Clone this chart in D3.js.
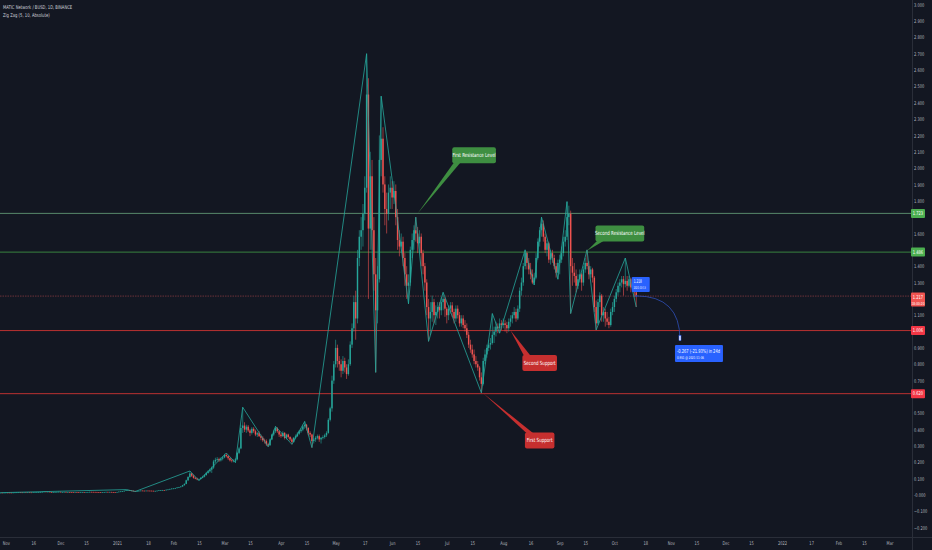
<!DOCTYPE html>
<html>
<head>
<meta charset="utf-8">
<title>MATIC Network / BUSD, 1D</title>
<style>
  body { margin: 0; background: #131722; }
  svg { display: block; }
  text { font-family: "Liberation Sans Narrow", "DejaVu Sans Condensed", sans-serif; }
</style>
</head>
<body>
<script src="https://cdn.jsdelivr.net/npm/d3@7"></script>
<script>
// daily candles, one row per day: [high, low, close]; open = previous close
const startDate = "2020-10-29";
const firstOpen = 0.0143;

const oct20 = [[0.0150,0.0139,0.0145],[0.0148,0.0138,0.0142],[0.0152,0.0140,0.0148]];
const nov20 = [[0.0155,0.0143,0.0150],[0.0153,0.0144,0.0149],[0.0151,0.0140,0.0146],[0.0150,0.0139,0.0144],[0.0156,0.0142,0.0150],
  [0.0163,0.0148,0.0158],[0.0166,0.0154,0.0161],[0.0168,0.0157,0.0163],[0.0167,0.0155,0.0160],[0.0163,0.0152,0.0157],
  [0.0166,0.0154,0.0162],[0.0165,0.0155,0.0160],[0.0168,0.0157,0.0163],[0.0165,0.0154,0.0159],[0.0162,0.0151,0.0157],
  [0.0172,0.0155,0.0168],[0.0178,0.0164,0.0172],[0.0182,0.0166,0.0175],[0.0186,0.0170,0.0180],[0.0192,0.0176,0.0186],
  [0.0202,0.0183,0.0194],[0.0225,0.0190,0.0210],[0.0215,0.0195,0.0201],[0.0212,0.0190,0.0203],[0.0208,0.0180,0.0186],
  [0.0190,0.0155,0.0168],[0.0186,0.0162,0.0180],[0.0190,0.0175,0.0184],[0.0195,0.0180,0.0188],[0.0204,0.0185,0.0196]];
const dec20 = [[0.0200,0.0178,0.0183],[0.0190,0.0176,0.0184],[0.0195,0.0180,0.0190],[0.0192,0.0170,0.0175],[0.0188,0.0172,0.0184],
  [0.0187,0.0176,0.0182],[0.0185,0.0174,0.0178],[0.0180,0.0166,0.0172],[0.0180,0.0168,0.0176],[0.0179,0.0168,0.0174],
  [0.0175,0.0162,0.0169],[0.0177,0.0166,0.0173],[0.0184,0.0171,0.0180],[0.0183,0.0173,0.0178],[0.0184,0.0174,0.0180],
  [0.0190,0.0177,0.0185],[0.0200,0.0182,0.0192],[0.0196,0.0184,0.0190],[0.0194,0.0183,0.0188],[0.0192,0.0180,0.0186],
  [0.0188,0.0172,0.0180],[0.0184,0.0170,0.0178],[0.0180,0.0158,0.0166],[0.0182,0.0162,0.0178],[0.0190,0.0175,0.0185],
  [0.0196,0.0182,0.0190],[0.0198,0.0183,0.0188],[0.0195,0.0184,0.0189],[0.0192,0.0176,0.0182],[0.0188,0.0175,0.0181],
  [0.0186,0.0172,0.0178]];
const jan21 = [[0.0192,0.0176,0.0185],[0.0212,0.0182,0.0205],[0.0228,0.0198,0.0220],[0.0245,0.0205,0.0235],[0.0270,0.0228,0.0260],
  [0.0305,0.0255,0.0290],[0.0330,0.0280,0.0300],[0.0310,0.0262,0.0275],[0.0285,0.0255,0.0262],[0.0272,0.0240,0.0248],
  [0.0255,0.0215,0.0232],[0.0252,0.0225,0.0245],[0.0262,0.0238,0.0256],[0.0278,0.0250,0.0270],[0.0275,0.0255,0.0264],
  [0.0270,0.0255,0.0262],[0.0274,0.0258,0.0268],[0.0272,0.0258,0.0265],[0.0270,0.0254,0.0262],[0.0266,0.0245,0.0258],
  [0.0260,0.0232,0.0240],[0.0258,0.0230,0.0252],[0.0272,0.0248,0.0265],[0.0292,0.0260,0.0286],[0.0300,0.0278,0.0292],
  [0.0310,0.0285,0.0302],[0.0308,0.0285,0.0296],[0.0332,0.0290,0.0325],[0.0350,0.0318,0.0340],[0.0380,0.0332,0.0372],
  [0.0405,0.0360,0.0392]];
const feb21 = [[0.0420,0.0380,0.0400],[0.0440,0.0395,0.0425],[0.0475,0.0415,0.0460],[0.0500,0.0440,0.0480],[0.0540,0.0465,0.0520],
  [0.0620,0.0505,0.0600],[0.0710,0.0570,0.0680],[0.0940,0.0660,0.0900],[0.1150,0.0850,0.1100],[0.1470,0.1050,0.1320],
  [0.1350,0.1100,0.1180],[0.1240,0.1000,0.1050],[0.1100,0.0960,0.1000],[0.1060,0.0900,0.0950],[0.1020,0.0880,0.0980],
  [0.1100,0.0950,0.1050],[0.1180,0.1020,0.1120],[0.1280,0.1080,0.1220],[0.1420,0.1180,0.1350],[0.1520,0.1300,0.1450],
  [0.1620,0.1380,0.1550],[0.1750,0.1350,0.1680],[0.2150,0.1600,0.2050],[0.2280,0.1950,0.2150],[0.2320,0.2050,0.2200],
  [0.2280,0.2020,0.2120],[0.2300,0.2050,0.2220],[0.2380,0.2120,0.2300]];
const mar21 = [[0.2520,0.2250,0.2450],[0.2570,0.2300,0.2380],[0.2420,0.2150,0.2250],[0.2300,0.2050,0.2120],[0.2200,0.1990,0.2080],
  [0.2180,0.2000,0.2100],[0.2250,0.1980,0.2180],[0.2650,0.2120,0.2580],[0.2950,0.2500,0.2850],[0.4300,0.2800,0.4100],
  [0.5370,0.3800,0.4250],[0.4450,0.3850,0.4000],[0.4300,0.3800,0.4180],[0.4280,0.3850,0.3950],[0.4050,0.3600,0.3800],
  [0.4150,0.3700,0.4050],[0.4150,0.3800,0.3900],[0.4000,0.3600,0.3700],[0.3850,0.3550,0.3780],[0.3900,0.3550,0.3600],
  [0.3700,0.3350,0.3500],[0.3600,0.3250,0.3350],[0.3450,0.3150,0.3300],[0.3400,0.3000,0.3100],[0.3200,0.2950,0.3050],
  [0.3450,0.3000,0.3400],[0.3750,0.3350,0.3700],[0.4000,0.3600,0.3900],[0.4200,0.3800,0.4100],[0.4150,0.3800,0.3900],
  [0.3950,0.3550,0.3700]];
const apr21 = [[0.3800,0.3500,0.3600],[0.3900,0.3550,0.3800],[0.3850,0.3400,0.3500],[0.3750,0.3400,0.3700],[0.3750,0.3450,0.3550],
  [0.3600,0.3300,0.3400],[0.3500,0.3100,0.3250],[0.3550,0.3200,0.3500],[0.3700,0.3400,0.3600],[0.3850,0.3550,0.3750],
  [0.3980,0.3680,0.3900],[0.4100,0.3800,0.4000],[0.4300,0.3900,0.4200],[0.4500,0.4050,0.4300],[0.4350,0.3950,0.4100],
  [0.4150,0.3650,0.3800],[0.3900,0.3550,0.3700],[0.3750,0.2900,0.3300],[0.3500,0.3150,0.3400],[0.3600,0.3250,0.3500],
  [0.3700,0.3400,0.3600],[0.3700,0.3250,0.3400],[0.3550,0.3150,0.3500],[0.3650,0.3400,0.3550],[0.3750,0.3450,0.3650],
  [0.3900,0.3550,0.3800],[0.4700,0.3750,0.4600],[0.5400,0.4500,0.5300],[0.7300,0.5100,0.7000],[0.8200,0.6800,0.8000]];
const may21 = [[0.9500,0.7800,0.9000],[0.9200,0.7800,0.8200],[0.8500,0.7600,0.8000],[0.8300,0.7200,0.7600],[0.8500,0.7400,0.8200],
  [0.8400,0.7500,0.7800],[0.8000,0.7100,0.7400],[0.8300,0.7300,0.8000],[0.9400,0.7900,0.9200],[1.0500,0.9000,1.0200],
  [1.2200,1.0000,1.1800],[1.2500,0.9500,1.0800],[1.5000,1.0500,1.4500],[1.6200,1.4000,1.5800],[1.7000,1.5000,1.6200],
  [1.7800,1.5200,1.7200],[1.9500,1.6800,1.8800],[2.7000,1.8500,2.4500],[2.5500,1.2000,1.6300],[2.1000,1.5000,1.9500],
  [2.0500,1.5000,1.6200],[1.7000,1.2500,1.3500],[1.4500,0.7500,1.1300],[1.4000,1.0500,1.3200],[2.2000,1.3000,2.0500],
  [2.4400,1.9500,2.1800],[2.2500,1.8500,1.9000],[1.9500,1.6500,1.7500],[1.8500,1.6000,1.7200],[1.9000,1.6800,1.8500],
  [1.9500,1.7500,1.8800]];
const jun21 = [[1.9200,1.7500,1.8200],[1.9200,1.7800,1.8600],[1.9000,1.6500,1.7000],[1.7500,1.5000,1.5600],[1.6200,1.4600,1.5200],
  [1.6000,1.4800,1.5500],[1.5800,1.4000,1.4500],[1.4800,1.2800,1.3500],[1.4000,1.2000,1.2800],[1.3500,1.1700,1.3000],
  [1.5200,1.2800,1.5000],[1.6000,1.4500,1.5600],[1.6500,1.5000,1.6200],[1.7000,1.5500,1.6000],[1.6400,1.4800,1.5400],
  [1.6200,1.4800,1.5800],[1.6000,1.4000,1.4800],[1.5000,1.3500,1.4000],[1.4200,1.2500,1.3000],[1.3200,1.1000,1.1500],
  [1.2000,0.9400,1.0800],[1.1800,0.9800,1.1200],[1.2200,1.0600,1.1800],[1.2000,1.0500,1.1000],[1.1600,1.0400,1.1200],
  [1.1800,1.0800,1.1500],[1.1800,1.0800,1.1300],[1.2100,1.1000,1.1800],[1.2400,1.1300,1.2000],[1.2100,1.0900,1.1400]];
const jul21 = [[1.1500,1.0500,1.1000],[1.1600,1.0700,1.1400],[1.1800,1.1100,1.1600],[1.1800,1.0900,1.1200],[1.1400,1.0500,1.0800],
  [1.1600,1.0600,1.1400],[1.1600,1.0800,1.1000],[1.1200,1.0300,1.0500],[1.1000,1.0300,1.0800],[1.1000,1.0200,1.0400],
  [1.0700,1.0000,1.0200],[1.0500,0.9600,0.9800],[1.0000,0.9000,0.9200],[0.9500,0.8700,0.8900],[0.9200,0.8400,0.8600],
  [0.8900,0.8000,0.8200],[0.8500,0.7800,0.8000],[0.8200,0.7600,0.7800],[0.7900,0.7000,0.7200],[0.7500,0.6250,0.6800],
  [0.8400,0.6700,0.8200],[0.8900,0.8000,0.8600],[0.9200,0.8400,0.9000],[0.9500,0.8800,0.9200],[0.9600,0.8900,0.9300],
  [1.1100,0.9200,0.9800],[1.0300,0.9300,1.0000],[1.0600,0.9700,1.0300],[1.0500,0.9900,1.0200],[1.0800,0.9900,1.0500],
  [1.0700,1.0100,1.0400]];
const aug21 = [[1.0800,1.0200,1.0500],[1.0700,1.0000,1.0400],[1.0600,0.9900,1.0200],[1.0800,1.0000,1.0600],[1.1000,1.0300,1.0800],
  [1.1200,1.0500,1.1000],[1.1500,1.0800,1.1200],[1.1400,1.0600,1.0800],[1.1600,1.0700,1.1400],[1.2700,1.1200,1.2500],
  [1.3300,1.2200,1.3000],[1.4200,1.2800,1.4000],[1.5000,1.3800,1.4800],[1.4900,1.3800,1.4200],[1.4500,1.3500,1.3800],
  [1.4200,1.3200,1.3500],[1.3800,1.2900,1.3000],[1.3600,1.2850,1.3300],[1.4800,1.3200,1.4500],[1.5700,1.4400,1.5500],
  [1.6400,1.5200,1.6200],[1.7000,1.5800,1.6600],[1.6800,1.5500,1.5800],[1.6000,1.4800,1.5000],[1.5600,1.4600,1.5400],
  [1.5500,1.4200,1.4400],[1.5000,1.4100,1.4800],[1.5000,1.4200,1.4500],[1.4700,1.3800,1.4000],[1.4200,1.3300,1.3600],
  [1.4400,1.3200,1.4200]];
const sep21 = [[1.4700,1.3500,1.4400],[1.5200,1.4200,1.4800],[1.5800,1.4600,1.5500],[1.6200,1.5200,1.5800],[1.7950,1.5600,1.7000],
  [1.7700,1.6500,1.7200],[1.7400,1.1100,1.4000],[1.4500,1.2800,1.3600],[1.4200,1.3000,1.3400],[1.3800,1.2400,1.2800],
  [1.3500,1.2600,1.3200],[1.3800,1.3000,1.3500],[1.3600,1.2500,1.3000],[1.4000,1.2800,1.3800],[1.4500,1.3600,1.4200],
  [1.5000,1.3800,1.4000],[1.4300,1.3200,1.3500],[1.4000,1.3300,1.3800],[1.3900,1.3000,1.3300],[1.3400,1.1200,1.1500],
  [1.1900,1.0100,1.0500],[1.2000,1.0400,1.1800],[1.2400,1.1500,1.2200],[1.2300,1.0600,1.1000],[1.1500,1.0600,1.1200],
  [1.1400,1.0300,1.0800],[1.1200,1.0400,1.0600],[1.0900,1.0200,1.0400],[1.1400,1.0300,1.1200],[1.1800,1.1000,1.1500]];
const oct21 = [[1.2200,1.1200,1.2000],[1.2600,1.1800,1.2400],[1.3000,1.2200,1.2800],[1.3200,1.2400,1.3000],[1.3400,1.2700,1.3200],
  [1.3400,1.2200,1.2900],[1.4500,1.2700,1.3100],[1.3400,1.2500,1.2800],[1.3400,1.2700,1.3200],[1.3300,1.2400,1.2700],
  [1.3200,1.2500,1.3000],[1.3100,1.2100,1.2400],[1.2600,1.1500,1.2170]];

const months = [oct20, nov20, dec20, jan21, feb21, mar21, apr21, may21, jun21, jul21, aug21, sep21, oct21];

// Zig Zag (5, 10) pivots
const zigDates = ["2020-10-29","2021-01-06","2021-01-11","2021-02-10","2021-02-15","2021-03-02","2021-03-07","2021-03-11",
  "2021-03-25","2021-03-29","2021-04-07","2021-04-14","2021-04-18","2021-05-18","2021-05-23","2021-05-26","2021-06-10",
  "2021-06-14","2021-06-21","2021-06-29","2021-07-20","2021-07-26","2021-07-30","2021-08-13","2021-08-18","2021-08-22",
  "2021-08-31","2021-09-05","2021-09-07","2021-09-16","2021-09-21","2021-10-07","2021-10-13"];
const zigValues = [0.0142,0.033,0.0215,0.147,0.088,0.257,0.198,0.537,0.295,0.42,0.31,0.45,0.29,2.70,0.75,2.44,1.17,
  1.70,0.94,1.24,0.625,1.11,0.99,1.50,1.285,1.70,1.32,1.795,1.11,1.50,1.01,1.45,1.15];

// horizontal levels
const levelValues = [1.723, 1.486, 1.006, 0.620];
const levelKinds = ["res1", "res2", "sup", "sup"];
const lastPrice = 1.217;
const countdown = "18:00:20";

// callouts: tip [date, price], box centre [date, price]
const calloutTexts = ["First Resistance Level", "Second Resistance Level", "Second Support", "First Support"];
const calloutTips = [["2021-06-15", 1.723], ["2021-09-16", 1.495], ["2021-08-05", 1.006], ["2021-07-21", 0.622]];
const calloutAt = [["2021-07-16", 2.078], ["2021-10-04", 1.600], ["2021-08-21", 0.808], ["2021-08-21", 0.334]];
const calloutKinds = ["up", "up", "down", "down"];

// forecast
const forecastFrom = ["2021-10-13", 1.218];
const forecastTo = ["2021-11-06", 0.951];
const forecastText = "-0.267 (-21.93%) in 24d";
const forecastSub = "0.951 @ 2021-11-06";

// time axis ticks
const timeTicks = [["2020-11-01","Nov"],["2020-11-16","16"],["2020-12-01","Dec"],["2020-12-15","15"],["2021-01-01","2021"],
  ["2021-01-18","18"],["2021-02-01","Feb"],["2021-02-15","15"],["2021-03-01","Mar"],["2021-03-15","15"],["2021-04-01","Apr"],
  ["2021-04-15","15"],["2021-05-01","May"],["2021-05-17","17"],["2021-06-01","Jun"],["2021-06-15","15"],["2021-07-01","Jul"],
  ["2021-07-15","15"],["2021-08-01","Aug"],["2021-08-16","16"],["2021-09-01","Sep"],["2021-09-15","15"],["2021-10-01","Oct"],
  ["2021-10-18","18"],["2021-11-01","Nov"],["2021-11-15","15"],["2021-12-01","Dec"],["2021-12-15","15"],["2022-01-01","2022"],
  ["2022-01-17","17"],["2022-02-01","Feb"],["2022-02-15","15"],["2022-03-01","Mar"]];

// ---- layout ----
var width = 932, height = 550;
var plotRight = 912, plotBottom = 537;
var parse = d3.timeParse("%Y-%m-%d");
var narrow = 0.8; // squeeze text like a narrow face

var colors = { up: "#26a69a", down: "#ef5350", green: "#4caf50", red: "#f23645", text: "#b2b5be", blue: "#2962ff" };

// squeeze the glyphs of a text selection horizontally
function squeeze(sel, factor, fixed) {
  sel.each(function() {
    var len = fixed || this.getComputedTextLength() * factor;
    d3.select(this).attr("textLength", len).attr("lengthAdjust", "spacingAndGlyphs");
  });
  return sel;
}

// build candles
var candles = [];
var day = parse(startDate), prev = firstOpen;
months.forEach(function(m) {
  m.forEach(function(r) {
    candles.push({ date: day, open: prev, high: r[0], low: r[1], close: r[2] });
    prev = r[2];
    day = d3.timeDay.offset(day, 1);
  });
});

var x = d3.scaleTime()
  .domain([parse("2021-01-01"), parse("2022-01-01")])
  .range([117, 782]);
var y = d3.scaleLinear()
  .domain([0, 2.9])
  .range([495, 21]);

var svg = d3.select("body").append("svg")
  .attr("width", width)
  .attr("height", height);

svg.append("rect").attr("width", width).attr("height", height).attr("fill", "#131722");

svg.append("clipPath").attr("id", "plot")
  .append("rect").attr("width", plotRight).attr("height", plotBottom);

var plot = svg.append("g").attr("clip-path", "url(#plot)");

// level lines
var levelColor = { res1: "#6aa47e", res2: "#43a047", sup: "#e53935" };
plot.append("g").selectAll("line")
  .data(levelValues)
  .enter().append("line")
  .attr("x1", 0).attr("x2", plotRight)
  .attr("y1", d => y(d)).attr("y2", d => y(d))
  .attr("stroke", (d, i) => levelColor[levelKinds[i]])
  .attr("stroke-width", 0.8);

// last price line
plot.append("line")
  .attr("x1", 0).attr("x2", plotRight)
  .attr("y1", y(lastPrice)).attr("y2", y(lastPrice))
  .attr("stroke", "#a9434a").attr("stroke-width", 0.6)
  .attr("stroke-dasharray", "1.5 1");

// candles
var bodyW = 1.45;
var cg = plot.append("g");
cg.selectAll("line")
  .data(candles)
  .enter().append("line")
  .attr("x1", d => x(d.date)).attr("x2", d => x(d.date))
  .attr("y1", d => y(Math.max(d.high, d.open, d.close)))
  .attr("y2", d => y(Math.min(d.low, d.open, d.close)))
  .attr("stroke", d => d.close >= d.open ? colors.up : colors.down)
  .attr("stroke-width", 0.6);
cg.selectAll("rect")
  .data(candles)
  .enter().append("rect")
  .attr("x", d => x(d.date) - bodyW / 2)
  .attr("width", bodyW)
  .attr("y", d => y(Math.max(d.open, d.close)))
  .attr("height", d => Math.max(0.7, Math.abs(y(d.open) - y(d.close))))
  .attr("fill", d => d.close >= d.open ? colors.up : colors.down);

// zig zag
var zig = zigDates.map((d, i) => [parse(d), zigValues[i]]);
plot.append("path")
  .datum(zig)
  .attr("d", d3.line().x(d => x(d[0])).y(d => y(d[1])))
  .attr("fill", "none")
  .attr("stroke", "#26a69a")
  .attr("stroke-width", 0.8);

// callouts
var cFill = { up: "#3e8e41", down: "#c62f2f" };
calloutTexts.forEach(function(t, i) {
  var g = plot.append("g");
  var cx = x(parse(calloutAt[i][0])), cy = y(calloutAt[i][1]);
  var tx = x(parse(calloutTips[i][0])), ty = y(calloutTips[i][1]);
  var label = g.append("text")
    .attr("x", cx).attr("y", cy)
    .attr("text-anchor", "middle").attr("dominant-baseline", "central")
    .attr("fill", "#ffffff").attr("font-size", 5.6)
    .text(t);
  squeeze(label, narrow);
  var w = label.node().getComputedTextLength() * narrow + 9, h = 16;
  var bx = cx - w / 2, by = cy - h / 2;
  var edge = ty > cy ? by + h - 0.5 : by + 0.5;
  g.insert("path", "text")
    .attr("d", "M" + tx + "," + ty + "L" + (bx + 1.5) + "," + edge + "L" + (bx + 8) + "," + edge + "Z")
    .attr("fill", cFill[calloutKinds[i]]);
  g.insert("rect", "text")
    .attr("x", bx).attr("y", by).attr("width", w).attr("height", h)
    .attr("rx", 2).attr("fill", cFill[calloutKinds[i]]);
});

// forecast
var fx0 = x(parse(forecastFrom[0])), fy0 = y(forecastFrom[1]);
var fx1 = x(parse(forecastTo[0])), fy1 = y(forecastTo[1]);
plot.append("path")
  .attr("d", "M" + fx0 + "," + fy0 + "Q" + fx1 + "," + fy0 + " " + fx1 + "," + fy1)
  .attr("fill", "none").attr("stroke", "#2f4fb8").attr("stroke-width", 0.8);
plot.append("circle").attr("cx", fx0).attr("cy", fy0).attr("r", 1).attr("fill", "#2f4fb8");
plot.append("rect")
  .attr("x", fx1 - 1).attr("y", fy1 - 4).attr("width", 2).attr("height", 5)
  .attr("fill", "#e8ecff").attr("stroke", colors.blue).attr("stroke-width", 0.5);

var sb = plot.append("g");
sb.append("rect").attr("x", fx0 - 4.5).attr("y", fy0 - 19).attr("width", 18).attr("height", 15)
  .attr("rx", 1).attr("fill", colors.blue);
squeeze(sb.append("text").attr("x", fx0 - 2.5).attr("y", fy0 - 12.5).attr("fill", "#fff").attr("font-size", 5.2)
  .text(forecastFrom[1].toFixed(3)), narrow, 8);
squeeze(sb.append("text").attr("x", fx0 - 2.5).attr("y", fy0 - 6.5).attr("fill", "#fff").attr("font-size", 3.8)
  .text(forecastFrom[0]), narrow, 12);

var tb = plot.append("g");
tb.append("rect").attr("x", fx1 - 5).attr("y", fy1 + 5.5).attr("width", 48).attr("height", 17)
  .attr("rx", 1).attr("fill", colors.blue);
squeeze(tb.append("text").attr("x", fx1 - 3).attr("y", fy1 + 13).attr("fill", "#fff").attr("font-size", 5.4)
  .text(forecastText), narrow, 43);
squeeze(tb.append("text").attr("x", fx1 - 3).attr("y", fy1 + 19.5).attr("fill", "#fff").attr("font-size", 3.8)
  .text(forecastSub), narrow, 27);

// borders of scales
svg.append("line").attr("x1", plotRight + 0.5).attr("x2", plotRight + 0.5).attr("y1", 0).attr("y2", height)
  .attr("stroke", "#2a2e39").attr("stroke-width", 1);
svg.append("line").attr("x1", 0).attr("x2", width).attr("y1", plotBottom + 0.5).attr("y2", plotBottom + 0.5)
  .attr("stroke", "#2a2e39").attr("stroke-width", 1);

// price axis
var marks = levelValues.concat([lastPrice]);
var priceTicks = d3.range(-2, 31).map(i => i / 10)
  .filter(v => marks.every(m => Math.abs(y(v) - y(m)) > 6));
var yAxis = d3.axisRight(y)
  .tickValues(priceTicks)
  .tickSize(0)
  .tickPadding(2)
  .tickFormat(v => (Math.abs(v) < 1e-9 ? "-0.000" : d3.format(".3f")(v)));
var ya = svg.append("g").attr("transform", "translate(" + plotRight + ",0)").call(yAxis);
ya.select(".domain").remove();
squeeze(ya.selectAll("text").attr("fill", colors.text).attr("font-size", 5)
  .attr("font-family", "'Liberation Sans Narrow', 'DejaVu Sans Condensed', sans-serif"), narrow);

// price labels on the axis
var boxColor = { res1: colors.green, res2: colors.green, sup: colors.red };
levelValues.forEach(function(v, i) {
  svg.append("rect").attr("x", plotRight - 1).attr("y", y(v) - 4.5).attr("width", 14).attr("height", 9)
    .attr("rx", 1).attr("fill", boxColor[levelKinds[i]]);
  squeeze(svg.append("text").attr("x", plotRight + 6).attr("y", y(v)).attr("dy", "0.35em")
    .attr("text-anchor", "middle").attr("fill", "#fff").attr("font-size", 5)
    .text(d3.format(".3f")(v)), narrow);
});
svg.append("rect").attr("x", plotRight - 1).attr("y", y(lastPrice) - 3.5).attr("width", 14).attr("height", 14)
  .attr("rx", 1).attr("fill", colors.down);
squeeze(svg.append("text").attr("x", plotRight + 6).attr("y", y(lastPrice) + 1.2).attr("dy", "0.35em")
  .attr("text-anchor", "middle").attr("fill", "#fff").attr("font-size", 5)
  .text(d3.format(".3f")(lastPrice)), narrow);
squeeze(svg.append("text").attr("x", plotRight + 6).attr("y", y(lastPrice) + 7.2).attr("dy", "0.35em")
  .attr("text-anchor", "middle").attr("fill", "#fff").attr("font-size", 4)
  .text(countdown), narrow);

// time axis
var xAxis = d3.axisBottom(x)
  .tickValues(timeTicks.map(t => parse(t[0])))
  .tickFormat((d, i) => timeTicks[i][1])
  .tickSize(0)
  .tickPadding(4);
var xa = svg.append("g").attr("transform", "translate(0," + plotBottom + ")").call(xAxis);
xa.select(".domain").remove();
squeeze(xa.selectAll("text").attr("fill", colors.text).attr("font-size", 5)
  .attr("font-family", "'Liberation Sans Narrow', 'DejaVu Sans Condensed', sans-serif"), narrow);

// legend
squeeze(svg.append("text").attr("x", 3).attr("y", 8.5).attr("fill", "#d1d4dc").attr("font-size", 5.2)
  .text("MATIC Network / BUSD, 1D, BINANCE"), narrow);
squeeze(svg.append("text").attr("x", 3).attr("y", 17).attr("fill", "#d1d4dc").attr("font-size", 5.2)
  .text("Zig Zag (5, 10, Absolute)"), narrow);
</script>
</body>
</html>
